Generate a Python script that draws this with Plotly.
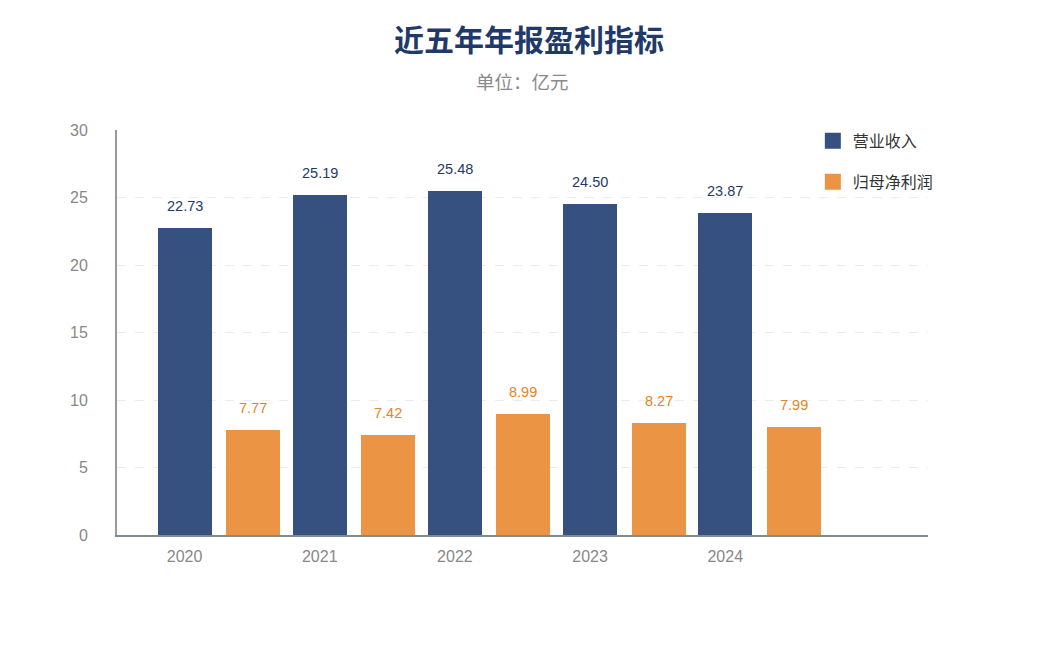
import plotly.graph_objects as go

years = ["2020", "2021", "2022", "2023", "2024"]
revenue = [22.73, 25.19, 25.48, 24.50, 23.87]
profit = [7.77, 7.42, 8.99, 8.27, 7.99]
y_ticks = [0, 5, 10, 15, 20, 25, 30]

FONT = "Liberation Sans, Noto Sans CJK SC, sans-serif"
NAVY = "#36507f"
ORANGE = "#eb9444"

fig = go.Figure()
fig.add_trace(go.Bar(
    x=years, y=revenue, name="营业收入", showlegend=False,
    marker=dict(color=NAVY, line=dict(width=0)),
    width=0.4, offset=-0.2,
))
fig.add_trace(go.Bar(
    x=years, y=profit, name="归母净利润", showlegend=False,
    marker=dict(color=ORANGE, line=dict(width=0)),
    width=0.4, offset=0.307,
))
# legend entries
fig.add_trace(go.Scatter(x=[None], y=[None], mode="markers", name="营业收入",
                         legendgroup="a",
                         marker=dict(symbol="square", size=20, color=NAVY)))
fig.add_trace(go.Scatter(x=[None], y=[None], mode="markers", name="归母净利润",
                         legendgroup="b",
                         marker=dict(symbol="square", size=20, color=ORANGE)))

annotations = []
for i, v in enumerate(revenue):
    annotations.append(dict(x=i, y=v, text=f"{v:.2f}", showarrow=False,
                            yanchor="bottom", yshift=12,
                            font=dict(size=14.5, color="#1f3a68", family=FONT)))
for i, v in enumerate(profit):
    annotations.append(dict(x=i + 0.507, y=v, text=f"{v:.2f}", showarrow=False,
                            yanchor="bottom", yshift=12,
                            font=dict(size=14.5, color="#e58427", family=FONT)))
annotations.append(dict(x=0.5, y=1, xref="paper", yref="paper", xanchor="center",
                        yanchor="middle", yshift=48, text="单位：亿元", showarrow=False,
                        font=dict(size=18.5, color="#8a8a8a", family=FONT)))

fig.update_layout(
    width=1042, height=656,
    margin=dict(l=109, r=122, t=122, b=129),
    paper_bgcolor="white", plot_bgcolor="white",
    font=dict(family=FONT),
    title=dict(text="<b>近五年年报盈利指标</b>", x=0.5, xanchor="center", y=0.951, yanchor="middle",
               font=dict(size=30, color="#1f3a68", family=FONT)),
    showlegend=True,
    legend=dict(x=0.858, y=1.015, xanchor="left", yanchor="top", bgcolor="rgba(0,0,0,0)",
                font=dict(size=16, color="#333333", family=FONT), tracegroupgap=17,
                itemsizing="trace"),
    annotations=annotations,
    bargap=0,
)
fig.update_xaxes(
    type="category", range=[-0.5, 5.5],
    showline=True, linecolor="#7f8c8d", linewidth=2,
    ticks="", showgrid=False,
    tickfont=dict(size=16, color="#888888", family=FONT),
    ticklabelstandoff=6,
)
fig.update_yaxes(
    range=[0, 30], tickvals=y_ticks,
    showline=True, linecolor="#999999", linewidth=2,
    showgrid=True, gridcolor="#ececec", griddash="dash", gridwidth=1,
    zeroline=False, ticks="",
    tickfont=dict(size=16, color="#888888", family=FONT),
    ticklabelstandoff=24,
)

fig.write_html("out.html")
